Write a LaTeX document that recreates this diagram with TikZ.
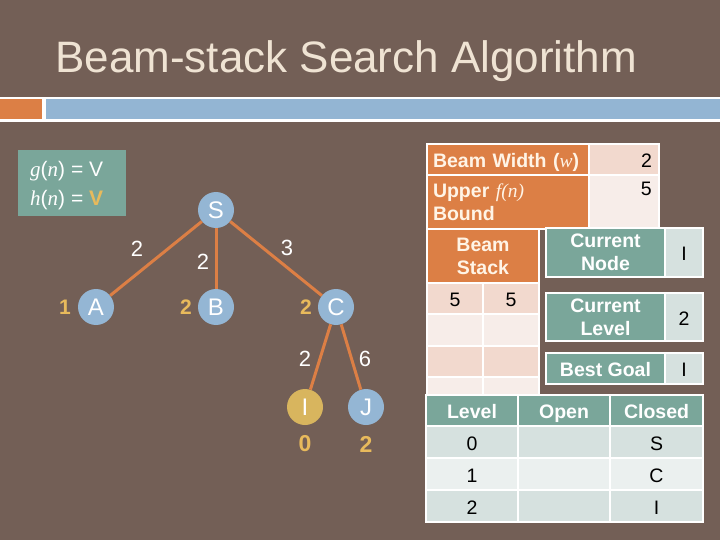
\documentclass[tikz,border=0pt]{standalone}
\usepackage{fontspec}
\setmainfont{Liberation Sans}
\newfontfamily\tms{Liberation Serif}
\definecolor{bgc}{HTML}{735F56}
\definecolor{orng}{HTML}{DC7F45}
\definecolor{teal1}{HTML}{7AA69A}
\definecolor{bluec}{HTML}{94B6D4}
\definecolor{goldt}{HTML}{E8BA5C}
\definecolor{goldc}{HTML}{D8B55E}
\definecolor{titlec}{HTML}{EFE3D3}
\definecolor{cream}{HTML}{FFF4E6}
\definecolor{pink1}{HTML}{F2D9CE}
\definecolor{pink2}{HTML}{F7EDE9}
\definecolor{gry1}{HTML}{D6E1DF}
\definecolor{gry2}{HTML}{EBF0EF}
\definecolor{bluebar}{HTML}{93B5D3}
\newcommand{\fs}[1]{\fontsize{#1bp}{23bp}\selectfont}
\begin{document}
\begin{tikzpicture}[x=1bp,y=-1bp,
  cellbox/.style 2 args={rectangle, draw=white, line width=1.5bp, minimum width=#1 bp, minimum height=#2 bp, inner sep=0pt, font=\fs{19.5}, text height=16bp, text depth=0bp},
  multi/.style={text height=, text depth=},
  lab/.style={text=cream, font=\fs{19.5}\bfseries},
  tlab/.style={text=white, font=\fs{19.5}\bfseries, align=center},
  val/.style={text=black, font=\fs{19.5}},
  gnode/.style={circle, fill=bluec, minimum size=36bp, inner sep=0pt, text=white, font=\fs{24}},
  gnum/.style={text=goldt, font=\fs{21}\bfseries, inner sep=0pt},
  elab/.style={text=white, font=\fs{22}, inner sep=0pt},
  edge/.style={draw=orng, line width=3bp}
]
\fill[bgc] (0,0) rectangle (720,540);
\useasboundingbox (0,0) rectangle (720,540);
% title
\node[anchor=base west, text=titlec, font=\fs{44}, inner sep=0pt] (title) at (55,73) {Beam-stack Search Algorithm};
% header bar
\fill[white] (0,97) rectangle (720,122);
\fill[orng] (0,99) rectangle (42,119);
\fill[bluebar] (46,99) rectangle (720,119);
% g/h box
\node[rectangle, fill=teal1, minimum width=108bp, minimum height=66bp, inner sep=0pt] (ghbox) at (72,183) {};
\node[anchor=base west, text=white, font=\fs{21}, inner sep=0pt] (gline) at (30,177) {{\tms\itshape g}({\tms\itshape n}) = V};
\node[anchor=base west, text=white, font=\fs{21}, inner sep=0pt] (hline) at (30,206) {{\tms\itshape h}({\tms\itshape n}) = \textcolor{goldt}{\bfseries V}};
% graph
\node[gnode] (S) at (216,210) {S};
\node[gnode] (A) at (96,307) {A};
\node[gnode] (B) at (216,307) {B};
\node[gnode] (C) at (336,307) {C};
\node[gnode, fill=goldc] (I) at (305,407) {I};
\node[gnode] (J) at (366,407) {J};
\draw[edge] (S) -- (A);
\draw[edge] (S) -- (B);
\draw[edge] (S) -- (C);
\draw[edge] (C) -- (I);
\draw[edge] (C) -- (J);
\node[elab] (eSA) at (137,249) {2};
\node[elab] (eSB) at (203,262) {2};
\node[elab] (eSC) at (287,248) {3};
\node[elab] (eCI) at (305,359) {2};
\node[elab] (eCJ) at (365,359) {6};
\node[gnum] (nA) at (65,307) {1};
\node[gnum] (nB) at (186,307) {2};
\node[gnum] (nC) at (306,307) {2};
\node[gnum, font=\fs{23}\bfseries] (nI) at (305,444) {0};
\node[gnum, font=\fs{23}\bfseries] (nJ) at (366,444) {2};
% beam width / upper bound
\node[cellbox={162}{31}, fill=orng, lab, text width=150bp, align=left] (bwL) at (508,159.5) {Beam Width ({\tms\itshape\mdseries w})};
\node[cellbox={70}{31}, fill=pink1, val, text width=56bp, align=right] (bwV) at (624,159.5) {2};
\node[cellbox={162}{54}, fill=orng, lab, multi, text width=150bp, align=left] (ubL) at (508,202) {Upper {\tms\itshape\mdseries f(n)}\\Bound};
\node[cellbox={70}{54}, fill=pink2] (ubV) at (624,202) {};
\node[val, anchor=east, inner sep=0pt] (ubVt) at (652,189) {5};
% beam stack
\node[cellbox={112}{54}, fill=orng, lab, multi, align=center] (bsH) at (483,256) {Beam\\Stack};
\node[cellbox={56}{31}, fill=pink1, val] (s11) at (455,298.5) {5};
\node[cellbox={56}{31}, fill=pink1, val] (s12) at (511,298.5) {5};
\node[cellbox={56}{32}, fill=pink2] (s21) at (455,330) {};
\node[cellbox={56}{32}, fill=pink2] (s22) at (511,330) {};
\node[cellbox={56}{31}, fill=pink1] (s31) at (455,361.5) {};
\node[cellbox={56}{31}, fill=pink1] (s32) at (511,361.5) {};
\node[cellbox={56}{18}, fill=pink2, text height=0bp, text depth=0bp] (s41) at (455,386) {};
\node[cellbox={56}{18}, fill=pink2, text height=0bp, text depth=0bp] (s42) at (511,386) {};
% current node / level / best goal
\node[cellbox={119}{49}, fill=teal1, tlab, multi] (cnL) at (605.5,252.5) {Current\\Node};
\node[cellbox={38}{49}, fill=gry1, val] (cnV) at (684,252.5) {I};
\node[cellbox={119}{48}, fill=teal1, tlab, multi] (clL) at (605.5,317) {Current\\Level};
\node[cellbox={38}{48}, fill=gry1, val] (clV) at (684,317) {2};
\node[cellbox={119}{31}, fill=teal1, tlab] (bgL) at (605.5,368.5) {Best Goal};
\node[cellbox={38}{31}, fill=gry1, val] (bgV) at (684,368.5) {I};
% open / closed table
\node[cellbox={92}{31}, fill=teal1, tlab] (hLv) at (472,410.5) {Level};
\node[cellbox={92}{31}, fill=teal1, tlab] (hOp) at (564,410.5) {Open};
\node[cellbox={93}{31}, fill=teal1, tlab] (hCl) at (656.5,410.5) {Closed};
\node[cellbox={92}{32}, fill=gry1, val] (r0a) at (472,442) {0};
\node[cellbox={92}{32}, fill=gry1] (r0b) at (564,442) {};
\node[cellbox={93}{32}, fill=gry1, val] (r0c) at (656.5,442) {S};
\node[cellbox={92}{32}, fill=gry2, val] (r1a) at (472,474) {1};
\node[cellbox={92}{32}, fill=gry2] (r1b) at (564,474) {};
\node[cellbox={93}{32}, fill=gry2, val] (r1c) at (656.5,474) {C};
\node[cellbox={92}{32}, fill=gry1, val] (r2a) at (472,506) {2};
\node[cellbox={92}{32}, fill=gry1] (r2b) at (564,506) {};
\node[cellbox={93}{32}, fill=gry1, val] (r2c) at (656.5,506) {I};
\end{tikzpicture}
\end{document}
